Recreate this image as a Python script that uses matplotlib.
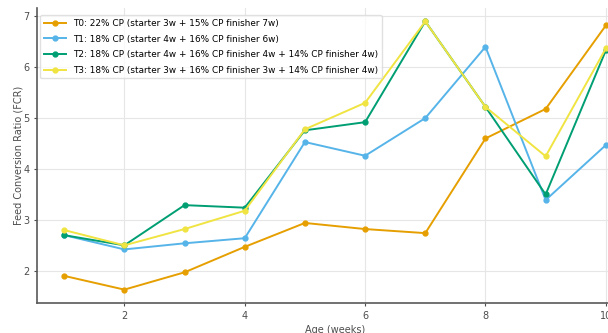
import matplotlib
matplotlib.use("Agg")
import matplotlib.pyplot as plt

weeks = [1, 2, 3, 4, 5, 6, 7, 8, 9, 10]
t0 = [1.90, 1.63, 1.97, 2.47, 2.94, 2.82, 2.74, 4.60, 5.18, 6.82]
t1 = [2.70, 2.42, 2.54, 2.64, 4.53, 4.26, 5.00, 6.40, 3.39, 4.47]
t2 = [2.70, 2.50, 3.29, 3.24, 4.76, 4.92, 6.90, 5.22, 3.50, 6.33]
t3 = [2.80, 2.50, 2.82, 3.18, 4.78, 5.30, 6.90, 5.22, 4.25, 6.37]
labels = [
    "T0: 22% CP (starter 3w + 15% CP finisher 7w)",
    "T1: 18% CP (starter 4w + 16% CP finisher 6w)",
    "T2: 18% CP (starter 4w + 16% CP finisher 4w + 14% CP finisher 4w)",
    "T3: 18% CP (starter 3w + 16% CP finisher 3w + 14% CP finisher 4w)",
]
colors = ["#E69F00", "#56B4E9", "#009E73", "#F0E442"]

plt.rcParams.update({"font.family": "DejaVu Sans", "font.size": 7})

fig = plt.figure(figsize=(6.08, 3.33), dpi=100)
ax = fig.add_axes([0.061, 0.09, 0.98, 0.886])
for ys, lab, c in zip([t0, t1, t2, t3], labels, colors):
    ax.plot(weeks, ys, marker="o", markersize=3.5, lw=1.4, color=c, label=lab)

ax.set_xlabel("Age (weeks)", color="0.3", labelpad=3)
ax.set_ylabel("Feed Conversion Ratio (FCR)", color="0.3", labelpad=0)
ax.set_xticks([2, 4, 6, 8, 10])
ax.grid(True, color="0.9", lw=0.8)
ax.set_axisbelow(True)
for s in ["top", "right"]:
    ax.spines[s].set_visible(False)
for s in ["left", "bottom"]:
    ax.spines[s].set_color("0.35")
    ax.spines[s].set_linewidth(1.2)
ax.tick_params(colors="0.3", labelsize=7, length=2)
ax.legend(loc="upper left", bbox_to_anchor=(0.005, 0.975), borderaxespad=0,
          fontsize=6.4, frameon=True, framealpha=0.8, edgecolor="0.85",
          handlelength=2.5, labelspacing=0.75)

fig.savefig("out.png", dpi=100)
